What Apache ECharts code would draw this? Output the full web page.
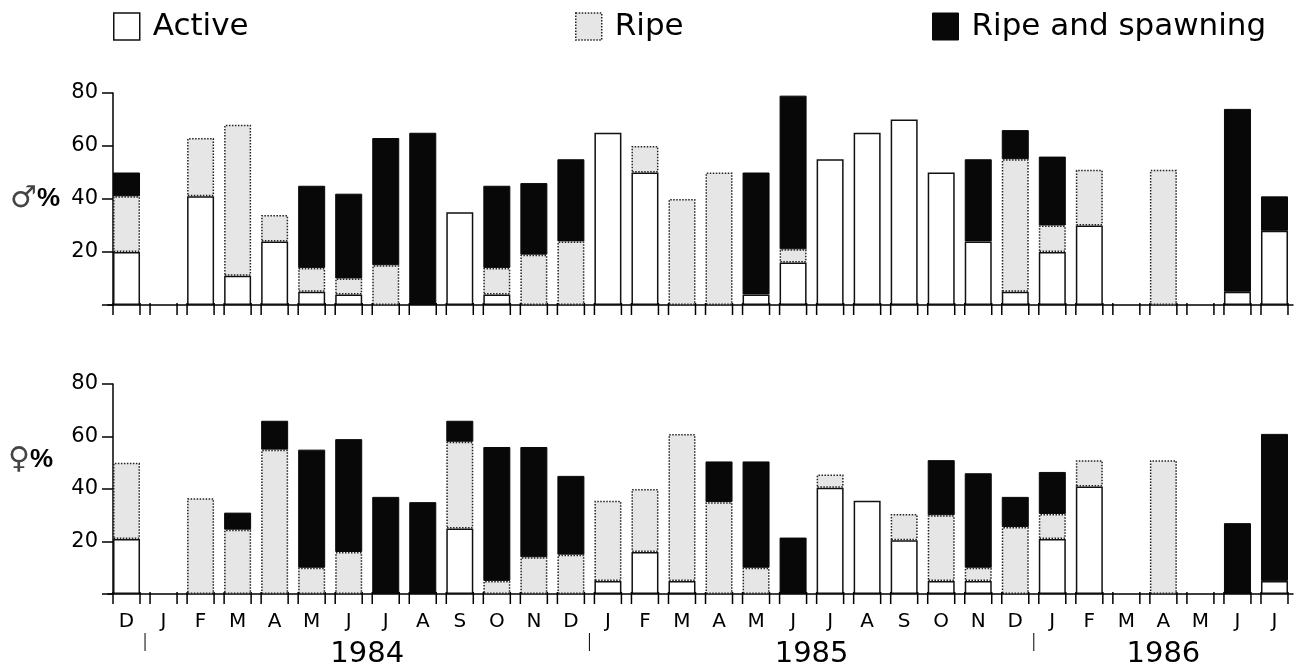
<!DOCTYPE html>
<html><head><meta charset="utf-8">
<script src="https://cdn.jsdelivr.net/npm/echarts@6/dist/echarts.min.js"></script>
<style>html,body{margin:0;padding:0;background:#fff}#c{width:1301px;height:666px}</style>
</head><body><div id="c"></div>
<script>
// 32 monthly samples: Dec 1983 - Jul 1986
const months = ['D','J','F','M','A','M','J','J','A','S','O','N','D','J','F','M','A','M','J','J','A','S','O','N','D','J','F','M','A','M','J','J'];
const years = [
  {label:'1984', first:1, last:12},
  {label:'1985', first:13, last:24},
  {label:'1986', first:25, last:31}
];
const yTicks = [0, 20, 40, 60, 80];

// Males (%)
const maleActive   = [20,0,41,11,24,5,4,0,0,35,4,0,0,65,50,0,0,4,16,55,65,70,50,24,5,20,30,0,0,0,5,28];
const maleRipe     = [21,0,22,57,10,9,6,15,0,0,10,19,24,0,10,40,50,0,5,0,0,0,0,0,50,10,21,0,51,0,0,0];
const maleSpawning = [9,0,0,0,0,31,32,48,65,0,31,27,31,0,0,0,0,46,58,0,0,0,0,31,11,26,0,0,0,0,69,13];

// Females (%)
const femActive    = [21,0,0,0,0,0,0,0,0,25,0,0,0,5,16,5,0,0,0,40.5,35.5,20.5,5,5,0,21,41,0,0,0,0,5];
const femRipe      = [29,0,36.5,24.5,55,10,16,0,0,33,5,14,15,30.5,24,56,35,10,0,5,0,10,25,5,25.5,9.5,10,0,51,0,0,0];
const femSpawning  = [0,0,0,6.5,11,45,43,37,35,8,51,42,30,0,0,0,15.5,40.5,21.5,0,0,0,21,36,11.5,16,0,0,0,0,27,56];

const FONT = 'DejaVu Sans';
const barW = 27;
const nz = a => a.map(v => v === 0 ? null : v);

const activeStyle = {color:'#ffffff', borderColor:'#111', borderWidth:1.5};
const ripeStyle = {color:'#e6e6e6', borderColor:'#222', borderWidth:1.5, borderType:'dotted'};
const spawnStyle = {color:'#080808', borderColor:'#080808', borderWidth:1};

function barSeries(name, data, style, idx, stack){
  return {name, type:'bar', stack, xAxisIndex:idx, yAxisIndex:idx, barWidth:barW,
    data:nz(data), itemStyle:style, emphasis:{disabled:true}, animation:false};
}
function tickSeries(idx){
  return {type:'custom', xAxisIndex:idx, yAxisIndex:idx, silent:true, animation:false, z:10,
    data: months.map((m,i)=>[i,0]),
    renderItem:function(params, api){
      const p = api.coord([api.value(0), 0]);
      const h = barW/2;
      const mk = x => ({type:'line', shape:{x1:x, y1:p[1]-2, x2:x, y2:p[1]+10}, style:{stroke:'#000', lineWidth:1.5}});
      return {type:'group', children:[mk(p[0]-h), mk(p[0]+h)]};
    }};
}
function xAx(idx, showLabels){
  return {type:'category', gridIndex:idx, data:months, boundaryGap:true,
    axisLine:{lineStyle:{color:'#000', width:1.5}}, axisTick:{show:false},
    axisLabel:{show:showLabels, interval:0, color:'#000', fontFamily:FONT, fontSize:20, margin:18}};
}
function yAx(idx){
  return {type:'value', gridIndex:idx, min:yTicks[0], max:yTicks[yTicks.length-1], interval:20, offset:-5,
    splitLine:{show:false},
    axisLine:{show:true, lineStyle:{color:'#000', width:1.5}},
    axisTick:{show:true, length:11, lineStyle:{color:'#000', width:1.5}},
    axisLabel:{color:'#000', fontFamily:FONT, fontSize:21, margin:15, formatter:v=> v===0 ? '' : String(v)}};
}

const chart = echarts.init(document.getElementById('c'), null, {renderer:'canvas'});
const legendText = {color:'#000', fontFamily:FONT, fontSize:31, padding:[0,0,0,8]};
const lg = (name, left, style) => ({data:[{name, icon:'rect', itemStyle:style}], left, top:11, padding:0,
  itemWidth:26, itemHeight:27, textStyle:legendText, selectedMode:false});
const option = {
  backgroundColor:'#fff',
  animation:false,
  legend:[lg('Active', 113, activeStyle), lg('Ripe', 575, ripeStyle), lg('Ripe and spawning', 932, spawnStyle)],
  grid:[
    {left:108, right:8, top:93, height:212},
    {left:108, right:8, top:384, height:210}
  ],
  xAxis:[xAx(0,false), xAx(1,true)],
  yAxis:[yAx(0), yAx(1)],
  series:[
    barSeries('Active', maleActive, activeStyle, 0, 'm'),
    barSeries('Ripe', maleRipe, ripeStyle, 0, 'm'),
    barSeries('Ripe and spawning', maleSpawning, spawnStyle, 0, 'm'),
    barSeries('Active', femActive, activeStyle, 1, 'f'),
    barSeries('Ripe', femRipe, ripeStyle, 1, 'f'),
    barSeries('Ripe and spawning', femSpawning, spawnStyle, 1, 'f'),
    tickSeries(0), tickSeries(1)
  ]
};
chart.setOption(option);

// year labels, year separators and axis names
const px = i => chart.convertToPixel({xAxisIndex:1}, i);
const baseY = chart.convertToPixel({yAxisIndex:1}, 0);
const g = [];
years.forEach(y => {
  const cx = (px(y.first) + px(y.last)) / 2;
  const sx = (px(y.first-1) + px(y.first)) / 2;
  g.push({type:'text', x:cx, y:baseY+60, style:{text:y.label, fill:'#000', font:'29px "'+FONT+'"', textAlign:'center', textVerticalAlign:'middle'}});
  g.push({type:'line', shape:{x1:sx, y1:baseY+39, x2:sx, y2:baseY+57}, style:{stroke:'#000', lineWidth:1}});
});
const rich = {s:{fontSize:30, fontFamily:'DejaVu Sans', fill:'#444'}, p:{fontSize:26, fontWeight:'bold', fontFamily:'Liberation Sans', fill:'#000'}};
g.push({type:'text', x:10, y:chart.convertToPixel({yAxisIndex:0}, 40), style:{text:'{s|♂}{p|%}', rich, textVerticalAlign:'middle'}});
g.push({type:'text', x:8, y:chart.convertToPixel({yAxisIndex:1}, 51), style:{text:'{s|♀}{p|%}', rich, textVerticalAlign:'middle'}});
chart.setOption({graphic:g});
</script>
</body></html>
